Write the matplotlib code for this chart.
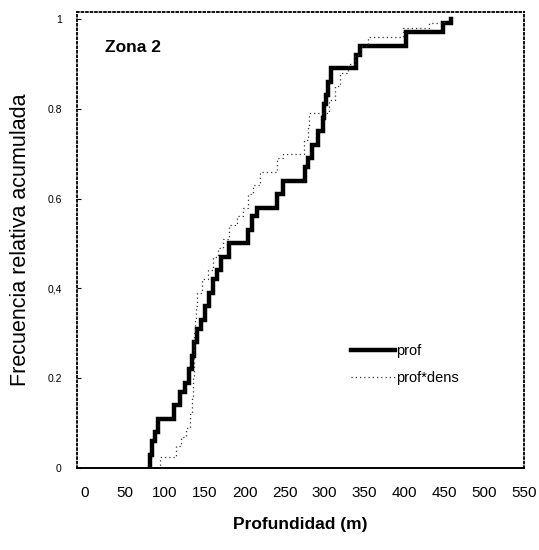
import matplotlib
matplotlib.use("Agg")
import matplotlib.pyplot as plt

# --- data ---
prof_x = [81, 84, 88, 91, 112, 119, 125, 130, 134, 137, 140, 145, 150, 155, 160,
          165, 171, 181, 204, 209, 216, 241, 248, 276, 280, 285, 292, 298, 300,
          302, 305, 308, 311, 340, 345, 402, 448, 459]
prof_y = [0.03, 0.06, 0.08, 0.11, 0.14, 0.17, 0.19, 0.22, 0.25, 0.28, 0.31, 0.33,
          0.36, 0.39, 0.42, 0.44, 0.47, 0.50, 0.53, 0.56, 0.58, 0.61, 0.64, 0.67,
          0.69, 0.72, 0.75, 0.78, 0.81, 0.83, 0.86, 0.89, 0.89, 0.92, 0.94, 0.97,
          0.99, 1.00]

dens_x = [81, 94, 114, 120, 126, 131, 134, 135, 136, 137, 138, 139, 140, 146, 154,
          160, 166, 173, 180, 191, 198, 204, 210, 219, 241, 248, 275, 279, 281,
          306, 313, 319, 329, 338, 346, 354, 398, 431, 450]
dens_y = [0.0, 0.025, 0.05, 0.07, 0.09, 0.12, 0.16, 0.20, 0.25, 0.30, 0.33, 0.36,
          0.39, 0.42, 0.44, 0.47, 0.49, 0.51, 0.54, 0.56, 0.58, 0.61, 0.63, 0.66,
          0.69, 0.70, 0.73, 0.76, 0.79, 0.82, 0.85, 0.88, 0.90, 0.92, 0.94, 0.96,
          0.98, 0.99, 1.00]

x_ticks = [0, 50, 100, 150, 200, 250, 300, 350, 400, 450, 500, 550]
y_ticks = [0, 0.2, 0.4, 0.6, 0.8, 1.0]
y_tick_labels = ["0", "0.2", "0,4", "0.6", "0.8", "1"]

plt.rcParams['font.family'] = ['Liberation Sans', 'DejaVu Sans']

fig = plt.figure(figsize=(5.39, 5.5), dpi=100)
ax = fig.add_axes([0.143, 0.149, 0.829, 0.829])

ax.plot([prof_x[0]] + prof_x, [0] + prof_y, drawstyle='steps-post',
        color='black', lw=3.2, solid_joinstyle='miter', label='prof')
ax.plot(dens_x, dens_y, drawstyle='steps-post', color='#333333', lw=0.9,
        linestyle=(0, (1, 2.4)), label='prof*dens')

ax.set_xlim(-10, 550)
ax.set_ylim(0, 1.015)
ax.set_xticks(x_ticks)
ax.set_xticklabels([str(v) for v in x_ticks], fontsize=11)
ax.set_yticks(y_ticks)
ax.set_yticklabels(y_tick_labels, fontsize=7.5)
ax.tick_params(axis='x', length=0, pad=13)
ax.tick_params(axis='y', length=3, direction='in', width=0.8, pad=11)

for side in ['left', 'right', 'top']:
    ax.spines[side].set_linestyle((0, (1, 1.5)))
    ax.spines[side].set_linewidth(1.3)
ax.spines['bottom'].set_linewidth(1.4)

ax.set_xlabel('Profundidad (m)', fontsize=12.5, fontweight='bold', labelpad=12)
ax.set_ylabel('Frecuencia relativa acumulada', fontsize=15.5, labelpad=12)

ax.text(0.063, 0.923, 'Zona 2', transform=ax.transAxes, fontsize=12.5,
        fontweight='bold', va='center', ha='left')

ax.legend(loc='upper left', bbox_to_anchor=(0.6, 0.285), frameon=False,
          fontsize=10.5, handlelength=3.0, handletextpad=0.1, labelspacing=0.9,
          borderaxespad=0)

fig.savefig('out.png', dpi=100)
